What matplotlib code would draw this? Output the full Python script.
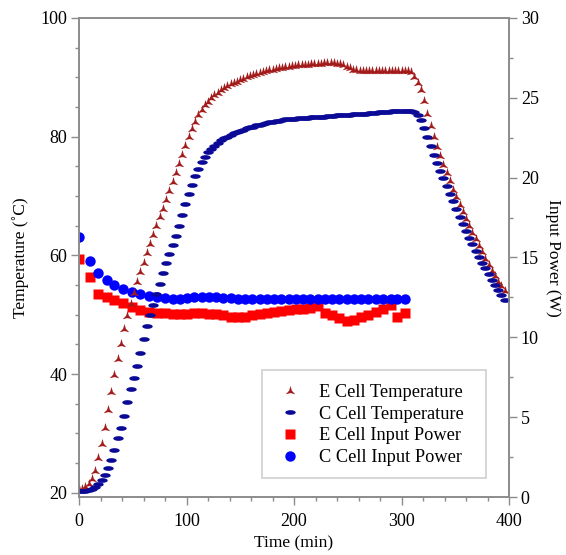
import numpy as np
import matplotlib
matplotlib.use("Agg")
import matplotlib.pyplot as plt
from matplotlib.ticker import MultipleLocator
from matplotlib.patches import Rectangle

plt.rcParams['font.family'] = ['Liberation Serif', 'DejaVu Serif']

# temperature log, one reading every 3 min
time_temp = list(range(0, 399, 3))

e_temp = [20.6, 20.7, 21.0, 21.5, 22.3, 23.6, 25.8, 28.3, 31.0, 34.0,
          37.0, 39.8, 42.5, 45.1, 47.6, 49.8, 51.8, 53.7, 55.5, 57.2,
          58.8, 60.4, 61.9, 63.4, 64.9, 66.4, 67.9, 69.4, 70.9, 72.4,
          73.9, 75.4, 76.9, 78.4, 79.9, 81.3, 82.5, 83.6, 84.5, 85.3,
          85.9, 86.5, 87.0, 87.4, 87.8, 88.2, 88.5, 88.8, 89.0, 89.3,
          89.5, 89.8, 90.0, 90.2, 90.4, 90.6, 90.8, 90.9, 91.0, 91.2,
          91.3, 91.4, 91.5, 91.6, 91.7, 91.8, 91.9, 91.9, 92.0, 92.0,
          92.1, 92.1, 92.2, 92.2, 92.3, 92.3, 92.4, 92.4, 92.4, 92.4,
          92.3, 92.2, 92.0, 91.7, 91.5, 91.3, 91.2, 91.1, 91.1, 91.0,
          91.0, 91.0, 91.0, 91.1, 91.1, 91.1, 91.1, 91.1, 91.0, 91.1,
          91.1, 91.0, 91.0, 90.9, 90.0, 89.0, 87.8, 86.0, 83.8, 81.8,
          80.0, 78.3, 76.8, 75.3, 73.9, 72.5, 71.1, 69.8, 68.5, 67.3,
          66.1, 64.9, 63.8, 62.7, 61.6, 60.5, 59.4, 58.4, 57.4, 56.5,
          55.6, 54.8, 54.0]

c_temp = [20.3, 20.3, 20.3, 20.4, 20.6, 21.0, 21.5, 22.1, 23.0, 24.2,
          25.6, 27.2, 29.2, 31.0, 33.0, 35.3, 37.5, 39.3, 41.3, 43.5,
          45.9, 48.1, 50.0, 51.6, 53.5, 55.2, 57.0, 58.7, 60.2, 61.7,
          63.3, 65.0, 66.8, 68.6, 70.3, 71.9, 73.3, 74.6, 75.7, 76.6,
          77.4, 78.0, 78.5, 79.0, 79.4, 79.7, 80.0, 80.3, 80.6, 80.8,
          81.0, 81.2, 81.4, 81.6, 81.7, 81.9, 82.0, 82.2, 82.3, 82.4,
          82.5, 82.6, 82.7, 82.8, 82.9, 82.9, 83.0, 83.0, 83.1, 83.1,
          83.2, 83.2, 83.3, 83.3, 83.3, 83.4, 83.4, 83.5, 83.5, 83.5,
          83.6, 83.6, 83.7, 83.7, 83.7, 83.8, 83.8, 83.8, 83.9, 83.9,
          84.0, 84.0, 84.0, 84.1, 84.1, 84.2, 84.2, 84.3, 84.3, 84.4,
          84.4, 84.4, 84.4, 84.3, 84.1, 83.7, 82.8, 81.4, 79.9, 78.4,
          77.0, 75.6, 74.3, 73.0, 71.7, 70.4, 69.1, 67.8, 66.5, 65.3,
          64.1, 63.0, 61.9, 60.8, 59.8, 58.8, 57.8, 56.8, 55.9, 55.0,
          54.1, 53.3, 52.5]

# input power log
time_power = [0, 10, 18, 26, 33, 41, 49, 57, 65, 73, 80, 87, 94, 100, 107,
              114, 121, 127, 134, 141, 148, 154, 161, 168, 175, 181, 188,
              195, 202, 208, 215, 222, 229, 235, 242, 249, 256, 262, 269,
              276, 283, 290, 296, 303]

e_power = [14.9, 13.75, 12.7, 12.5, 12.33, 12.13, 11.9, 11.7, 11.6, 11.5,
           11.5, 11.45, 11.45, 11.45, 11.5, 11.5, 11.45, 11.45, 11.4, 11.3,
           11.25, 11.3, 11.4, 11.45, 11.5, 11.6, 11.65, 11.7, 11.75, 11.8,
           11.85, 11.95, 11.5, 11.4, 11.2, 11.05, 11.1, 11.3, 11.4, 11.6,
           11.75, 12.05, 11.3, 11.55]

c_power = [16.3, 14.8, 14.05, 13.6, 13.3, 13.0, 12.85, 12.7, 12.6, 12.5,
           12.45, 12.4, 12.4, 12.45, 12.5, 12.55, 12.5, 12.5, 12.45, 12.45,
           12.4, 12.4, 12.4, 12.4, 12.4, 12.4, 12.4, 12.4, 12.4, 12.4,
           12.4, 12.4, 12.4, 12.4, 12.4, 12.4, 12.4, 12.4, 12.4, 12.4,
           12.4, 12.4, 12.4, 12.4]

# flat ellipse marker for the C cell temperature
th = np.linspace(0, 2 * np.pi, 40)
ellipse = np.column_stack([np.cos(th), 0.45 * np.sin(th)])

# concave three-armed arrowhead for the E cell temperature
ang = np.deg2rad([90, 150, 210, 270, 330, 30, 90])
rad = np.array([1, 0.28, 1, 0.28, 1, 0.28, 1])
arrow = np.column_stack([rad * np.cos(ang), rad * np.sin(ang)])

fig = plt.figure(figsize=(5.66, 5.55), dpi=100)
ax = fig.add_axes([79 / 566, 1 - 497 / 555, 430 / 566, 479 / 555])
ax2 = ax.twinx()

# temperatures drawn above the power points
ax.set_zorder(ax2.get_zorder() + 1)
ax.patch.set_visible(False)

l1, = ax.plot(time_temp, e_temp, ls="none", marker=arrow, ms=8,
              color="#a31a1a", mec="none", label="E Cell Temperature")
l2, = ax.plot(time_temp, c_temp, ls="none", marker=ellipse, ms=7.5,
              color="#0a0a96", mec="none", label="C Cell Temperature")
l3, = ax2.plot(time_power, e_power, ls="none", marker="s", ms=7.5,
               color="#ff0000", mec="none", label="E Cell Input Power")
l4, = ax2.plot(time_power, c_power, ls="none", marker="o", ms=7.5,
               color="#0000ff", mec="none", label="C Cell Input Power")

ax.set_xlim(0, 400)
ax.set_ylim(19.3, 100)
ax2.set_ylim(0, 30)

ax.xaxis.set_major_locator(MultipleLocator(100))
ax.xaxis.set_minor_locator(MultipleLocator(20))
ax.yaxis.set_major_locator(MultipleLocator(20))
ax.yaxis.set_minor_locator(MultipleLocator(5))
ax2.yaxis.set_major_locator(MultipleLocator(5))
ax2.yaxis.set_minor_locator(MultipleLocator(2.5))

grey = "#8c8c8c"
for a in (ax, ax2):
    for s in a.spines.values():
        s.set_color(grey)
        s.set_linewidth(1.2)
    a.tick_params(which="major", direction="out", length=5.5, width=1.0,
                  color=grey, labelsize=13, pad=3)
    a.tick_params(which="minor", direction="out", length=3, width=1.0,
                  color=grey)
ax.tick_params(axis="x", which="major", pad=6)

ax.set_xlabel("Time (min)", fontsize=12.5, labelpad=4)
ax.set_ylabel("Temperature (˚C)", fontsize=12.5, labelpad=8)
ax2.set_ylabel("Input Power (W)", fontsize=12.5, rotation=270, labelpad=16)

# legend box drawn separately: the original has wider side margins
box = Rectangle((0.4256, 0.0397), 0.521, 0.2254, transform=ax.transAxes,
                facecolor="white", edgecolor="#d0d0d0", lw=1.2, zorder=4)
ax.add_patch(box)
leg = ax.legend(handles=[l1, l2, l3, l4], loc="upper left",
                bbox_to_anchor=(0.4565, 0.236), fontsize=13.2, frameon=False,
                labelspacing=0.26, handlelength=1.6, borderpad=0,
                handletextpad=0.8, borderaxespad=0)
leg.set_zorder(5)

fig.savefig("out.png", dpi=100)
